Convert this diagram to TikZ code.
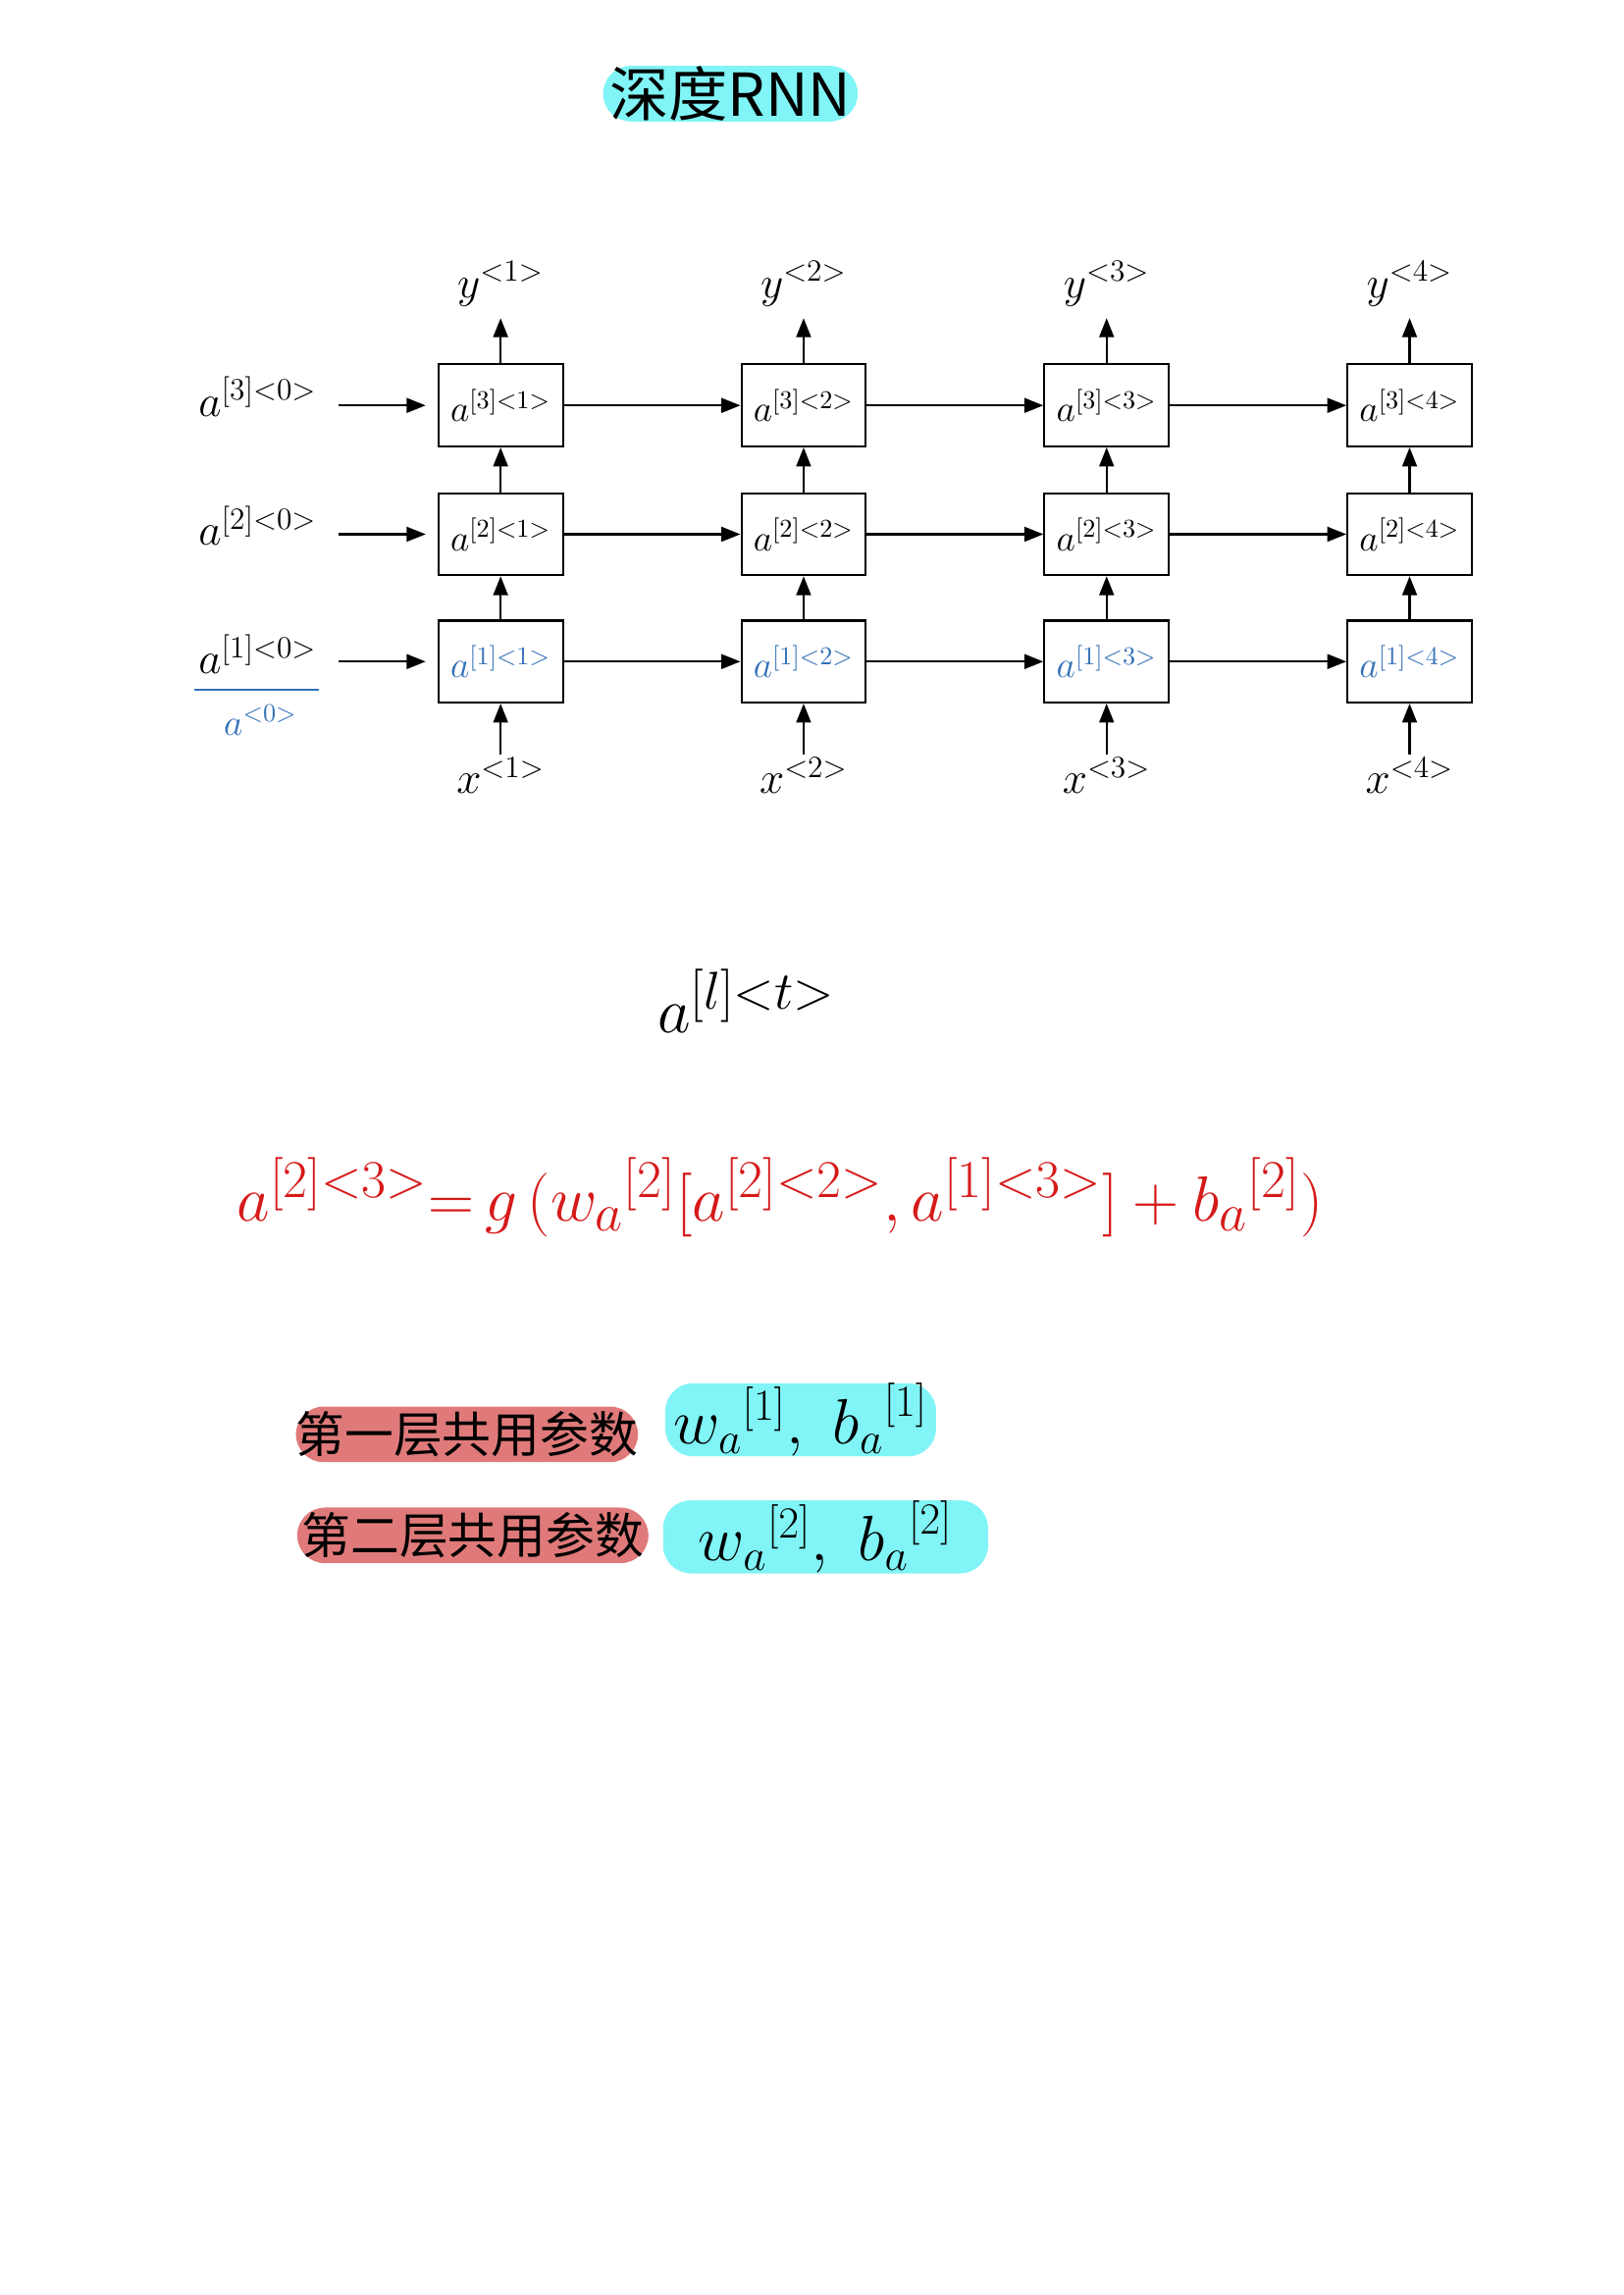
\documentclass[tikz,border=0pt]{standalone}
\usepackage{fontspec}
\newfontfamily\cjk{Noto Sans CJK SC}
\usetikzlibrary{arrows.meta,positioning}
\definecolor{hlcyan}{HTML}{80F4F6}
\definecolor{hlred}{HTML}{E07A7A}
\definecolor{inkred}{HTML}{D61A1A}
\definecolor{inkblue}{HTML}{3472B8}

\begin{document}
\begin{tikzpicture}[x={(0.02cm,0)},y={(0,-0.02cm)},
  cell/.style={draw,line width=0.8pt,minimum width=1.7cm,minimum height=1.12cm,inner sep=0pt,font={\fontsize{14}{16}\selectfont}},
  flow/.style={line width=0.8pt,-{Triangle[length=0.26cm,width=0.2cm]}},
  lbl/.style={inner sep=1pt,font={\fontsize{17}{19}\selectfont}},
  hand/.style={text=inkblue,inner sep=1pt,font={\fontsize{14}{16}\selectfont}},
  hilite/.style={rounded corners=0.38cm,inner xsep=0pt,inner ysep=0pt,minimum height=0.76cm}]
  \useasboundingbox (0,0) rectangle (1109,1568);

  % title
  \node[hilite,fill=hlcyan,minimum width=3.48cm,font={\cjk\fontsize{23}{23}\selectfont}] (title) at (499,64) {深度RNN};

  % initial states
  \node[lbl] (a3) at (176,271) {$a^{[3]<0>}$};
  \node[lbl] (a2) at (176,359) {$a^{[2]<0>}$};
  \node[lbl] (a1) at (176,447) {$a^{[1]<0>}$};
  \draw[inkblue,line width=0.8pt] (133,471) -- (218,471);
  \node[hand] (a0) at (178,492) {$a^{<0>}$};

  % cells
  \foreach \t/\cx in {1/342,2/549,3/756,4/963}{
    \node[cell] (b3\t) at (\cx,277) {$a^{[3]<\t>}$};
    \node[cell] (b2\t) at (\cx,365) {$a^{[2]<\t>}$};
    \node[cell,text=inkblue] (b1\t) at (\cx,452) {$a^{[1]<\t>}$};
    \node[lbl] (y\t) at (\cx,194) {$y^{<\t>}$};
    \node[lbl] (x\t) at (\cx,530) {$x^{<\t>}$};
    \draw[flow] (x\t) -- (b1\t);
    \draw[flow] (b1\t) -- (b2\t);
    \draw[flow] (b2\t) -- (b3\t);
    \draw[flow,shorten >=0.12cm] (b3\t) -- (y\t);
  }
  \foreach \l in {1,2,3}{
    \draw[flow,shorten <=0.25cm,shorten >=0.16cm] (a\l.east |- b\l1.west) -- (b\l1.west);
    \foreach \s/\t in {1/2,2/3,3/4}
      \draw[flow] (b\l\s) -- (b\l\t);
  }

  % notation
  \node[font={\fontsize{28}{30}\selectfont}] (alt) at (510,684) {$a^{[l]<t>}$};

  % update rule for layer 2
  \node[text=inkred,font={\fontsize{30}{32}\selectfont}] (eq) at (533,818)
    {$a^{[2]<3>}{=}\,g\,({w_a}^{[2]}[a^{[2]<2>},a^{[1]<3>}]+{b_a}^{[2]})$};

  % shared parameters
  \node[hilite,fill=hlred,minimum width=4.56cm,font={\cjk\fontsize{19}{19}\selectfont}] (l1) at (319,980) {第一层共用参数};
  \node[hilite,fill=hlcyan,minimum width=3.7cm,minimum height=0.72cm,font={\fontsize{24}{26}\selectfont}] (p1) at (547,970) {${w_a}^{[1]},\ {b_a}^{[1]}$};
  \node[hilite,fill=hlred,minimum width=4.8cm,font={\cjk\fontsize{19}{19}\selectfont}] (l2) at (323,1049) {第二层共用参数};
  \node[hilite,fill=hlcyan,minimum width=4.44cm,minimum height=0.72cm,font={\fontsize{24}{26}\selectfont}] (p2) at (564,1050) {${w_a}^{[2]},\ {b_a}^{[2]}$};
\end{tikzpicture}
\end{document}
